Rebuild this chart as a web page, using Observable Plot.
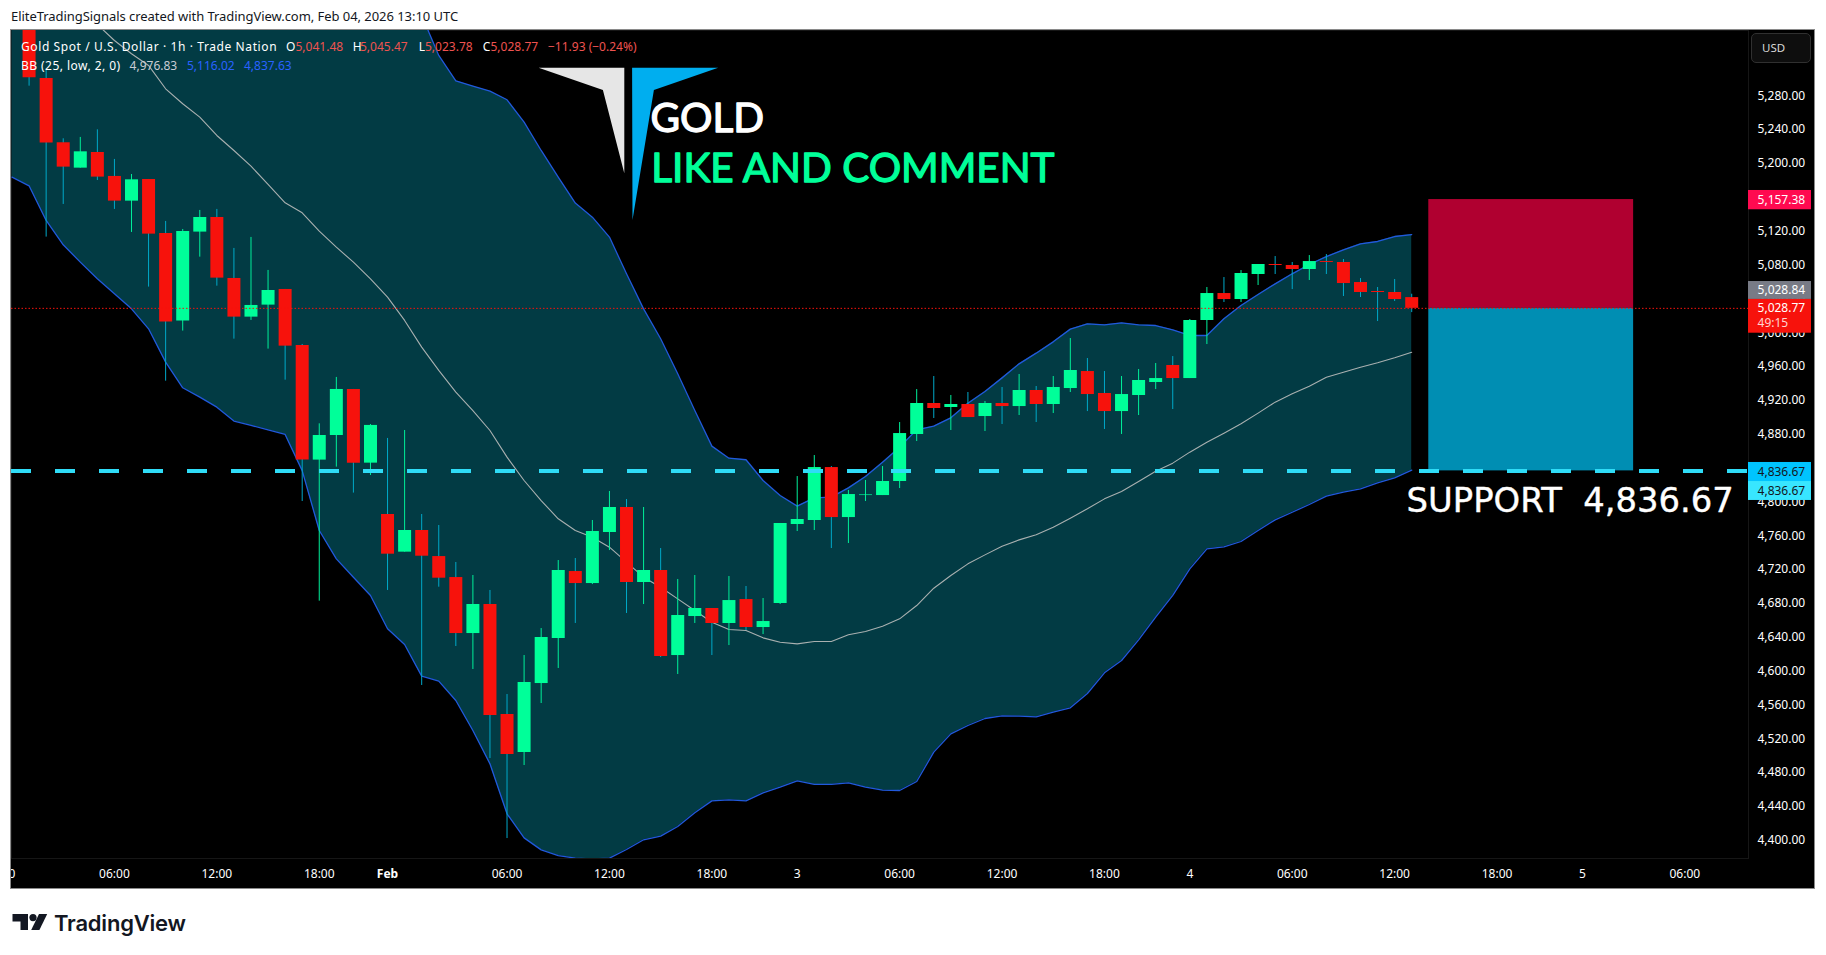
<!DOCTYPE html>
<html>
<head>
<meta charset="utf-8">
<script src="https://cdn.jsdelivr.net/npm/d3@7"></script>
<script src="https://cdn.jsdelivr.net/npm/@observablehq/plot@0.6"></script>
<style>
html,body{margin:0;padding:0;background:#fff;width:1826px;height:955px;overflow:hidden;font-family:"Noto Sans",sans-serif}
#credit{position:absolute;left:11px;top:7px;font-size:13px;line-height:18px;color:#131722;white-space:nowrap;letter-spacing:-.05px}
#chart{position:absolute;left:11px;top:30px;width:1803px;height:858px;background:#000;outline:1px solid #8a8a8a}
#chart svg{display:block;overflow:hidden}
.lg{position:absolute;font-size:12px;line-height:16px;white-space:nowrap;color:#fff}
.r{color:#ef5350}.b{color:#2962ff}.g{color:#c8ccd4}
#usd{position:absolute;left:1751px;top:33px;width:60px;height:30px;box-sizing:border-box;border:1px solid #303030;border-radius:5px;background:#0e0e0e;color:#d8d8d8;font-size:11.5px;line-height:28px;padding-left:10px}
#deco{position:absolute;left:0;top:0;width:1826px;height:955px;pointer-events:none}
#tv{position:absolute;left:54px;top:908px;font-family:Inter,"Noto Sans",sans-serif;font-weight:600;font-size:22px;line-height:30px;color:#131722;letter-spacing:-.2px}
</style>
</head>
<body>
<div id="credit">EliteTradingSignals created with TradingView.com, Feb 04, 2026 13:10 UTC</div>
<div id="chart"></div>
<div id="usd">USD</div>
<svg id="deco" viewBox="0 0 1826 955">
  <polygon points="538.6,67.7 624.3,67.7 624.3,173.3 602.9,90" fill="#e6e6e6"/>
  <polygon points="632.1,67.7 718.2,67.7 653.9,90 632.5,220" fill="#00aeef"/>
  <path d="M12.5 914h15.5v16h-7.5v-8.5h-8z" fill="#131722"/>
  <circle cx="33" cy="917.6" r="3.6" fill="#131722"/>
  <path d="M39 914h8.2l-7.8 16h-8.2z" fill="#131722"/>
</svg>
<div id="tv">TradingView</div>
<script>
// --- candles (bar 0 … bar 81)
const opens=[5400,5300.5,5224.5,5194.5,5213,5184.7,5155.5,5181.1,5117.3,5013.7,5118.9,5136.2,5064.1,5018.4,5032.6,5051.1,4984.9,4849.4,4878.5,4932.9,4845.8,4785.1,4740.6,4766.2,4735.4,4710.6,4644.4,4678.7,4548.7,4503.8,4585.3,4638.5,4717.7,4703.5,4763.8,4793.4,4704.7,4718.9,4618.4,4664.5,4674,4656.3,4684.6,4651.5,4679.9,4773.3,4778,4840.6,4781.5,4807.5,4807.5,4824.1,4879.7,4916.3,4911.6,4915.1,4900.9,4916.3,4912.7,4931.7,4915.1,4934,4954.1,4928.1,4906.8,4925.8,4941.1,4961.2,4945.8,5014.4,5046.3,5039.2,5068.8,5080.6,5079.4,5074.7,5084.1,5083,5059.3,5048.7,5047.5,5041.48];
const closes=[5301.3,5224.1,5195.7,5213.8,5183.9,5155.5,5180.7,5116.5,5012.5,5119.7,5136.2,5064.5,5018.4,5032.2,5049.9,4984.1,4849.4,4878.5,4932.9,4845.8,4890.4,4738.2,4766.2,4735.8,4709.8,4644.4,4678.7,4547.5,4501.4,4586.5,4639.7,4718.9,4703.5,4765,4793.4,4704.7,4718.9,4617.2,4665.7,4674,4656.3,4683.4,4651.5,4658.6,4774.5,4779.2,4840.6,4781.5,4808.7,4808.3,4824.1,4880.8,4916.3,4910.4,4915.1,4899.7,4916.3,4912.7,4931.7,4915.1,4935.2,4955.3,4926.9,4906.8,4926.9,4943.5,4945.8,4945.8,5014.4,5046.3,5039.2,5070,5080.6,5079.4,5074.7,5084.1,5083,5058.1,5047.5,5047.5,5039.2,5028.77];
const highs=[5410,5310,5229.2,5230.8,5239.8,5204.8,5187,5181.1,5131.5,5122,5144.5,5145.7,5099.6,5112.6,5073.6,5051.1,4986.1,4892.3,4947.1,4932.9,4891.5,4875,4884.4,4785.1,4772.1,4728.4,4713,4695.3,4572.3,4618.4,4650.3,4730.7,4733.1,4778,4812.3,4802.8,4793.4,4744.9,4708.3,4713,4674,4711.8,4700,4685.8,4774.5,4830,4854.8,4841.8,4813.5,4825.3,4841.8,4893.8,4932.8,4948.2,4925.8,4929.3,4918.7,4935.2,4950.6,4936.4,4948.2,4993.1,4969.5,4954.1,4948.2,4956.5,4963.6,4971.8,5015.6,5053.4,5065.2,5073.5,5080.6,5090,5083,5091.2,5092.4,5086.5,5064,5053.4,5062.9,5045.47];
const lows=[5291.4,5113,5151.6,5194.5,5179.9,5145.7,5118.5,5053.9,4942.7,5001.9,5089.3,5055,4992.4,5014.5,4980.6,4943.9,4800.5,4682.7,4841.1,4810.4,4831.2,4695.3,4740.6,4583,4699.2,4629.1,4601.9,4496.7,4402.1,4488.4,4561.7,4603.1,4656.3,4702.3,4742.5,4668.1,4678.7,4616,4596,4656.3,4618.4,4630.2,4648,4643.2,4678.7,4765,4766.2,4744.9,4750.8,4800.5,4807.5,4815.8,4871.4,4898.6,4884.4,4899.7,4883.2,4891.5,4902.1,4893.8,4904.5,4929.3,4906.8,4885.6,4879.7,4902.1,4932.8,4909.2,4945.8,4986,5035.7,5035.7,5055.8,5068.8,5051,5061.7,5068.8,5042.8,5041.6,5013.2,5036.9,5023.78];
// --- Bollinger bands (bar -1 … bar 81); the upper band is above the pane until bar 23
const bbUpper=[5775,5760,5745,5730,5715,5700,5685,5670,5655,5640,5625,5610,5595,5580,5565,5550,5535,5520,5505,5490,5475,5460,5440,5422,5375,5327.7,5297.7,5291.4,5285.5,5275.3,5248.9,5215.4,5183.9,5153.2,5136.6,5113,5069.6,5028.2,4992.8,4951.4,4908,4865.9,4851.7,4849.8,4825.3,4807.5,4795,4804.8,4805.6,4816.6,4830,4847,4864.7,4885.2,4889.5,4899.4,4916.7,4930.5,4946.6,4963.2,4975.8,4989.2,5004.2,5010.5,5009.3,5011.6,5009.3,5008.5,5003.4,4996.7,4996.7,5016.4,5032.1,5045.1,5057.7,5069.6,5080.6,5090,5097.9,5105,5107.8,5113.7,5116.02];
const bbMid=[5440,5425,5410,5395,5379,5364.3,5345.4,5329.7,5315.9,5288.3,5270.6,5254.8,5233.1,5215.4,5196.9,5175.2,5153.5,5141.7,5120,5101.1,5083.4,5063.7,5042,5014.5,4982.9,4955.4,4929.7,4908,4884.4,4852.9,4825.3,4801.6,4780,4766.2,4758.3,4746.5,4728.8,4711,4699.2,4685.4,4671.6,4657.8,4649.2,4648,4639.3,4634.2,4632.2,4635,4635,4642.9,4646.8,4653.1,4661.8,4677.5,4698,4713,4726.8,4737.4,4747.7,4755.1,4761.1,4770.1,4780.8,4791.8,4803.6,4812.3,4824.1,4836.3,4845.8,4858.8,4870.6,4881.2,4892.3,4904.9,4917.9,4927.7,4936.8,4947.4,4953.3,4959.2,4964.4,4970.3,4976.83];
const bbLower=[5183.9,5173.6,5132.7,5103.9,5083.4,5063.7,5046,5028.2,5004.6,4965.2,4934.9,4923.8,4912,4895.5,4890.4,4885.2,4879.7,4837,4766.2,4732.7,4711,4689.4,4650,4631.4,4594,4588.1,4565.2,4529.8,4490.4,4431.3,4402.9,4388.7,4382,4378.9,4378,4378.9,4389.1,4400.6,4404.9,4416.3,4432.5,4446.6,4447.8,4446.6,4456.1,4462.8,4470.3,4466,4466,4467.9,4462.8,4459.3,4458.9,4469.5,4504.2,4525.8,4535.7,4544,4547.1,4546.7,4546,4551.5,4556.6,4573.5,4598,4612.5,4637,4663.7,4689.4,4720.9,4744.5,4746.9,4753.2,4766.2,4778.8,4787.8,4796.9,4806.8,4811.5,4815.4,4822.5,4828.4,4837.63];
// --- axis labels
const priceTicks=[4400,4440,4480,4520,4560,4600,4640,4680,4720,4760,4800,4840,4880,4920,4960,5000,5040,5080,5120,5160,5200,5240,5280];
const timeTickBars=[-1.7,5,11,17,28,34,40,45,51,57,63,68,74,80,86,91,97];
const timeTickLabels=["00:00","06:00","12:00","18:00","06:00","12:00","18:00","3","06:00","12:00","18:00","4","06:00","12:00","18:00","5","06:00"];
const boldTickBars=[21];
const boldTickLabels=["Feb"];
// --- levels
const supportLevel=4836.67, stopLevel=5157.38, lastClose=5028.77;
const positionBars=[82,94];
// --- price tags: label, price span of the tag, text price, colours
const tagNames=["5,157.38","5,028.84","5,028.77","4,836.67","4,836.67"];
const tagTop=[5168.1,5060.5,5039.3,4846.6,4824.1];
const tagBottom=[5145.3,5039.3,4999.4,4824.1,4801.7];
const tagTextAt=[5156.7,5049.9,5029.5,4835.4,4813];
const tagFill=["#ff0a50","#787b86","#f7120c","#00c4ff","#38e6ff"];
const tagInk=["#fff","#fff","#fff","#131722","#131722"];

const colUp="#00ff99", colDown="#f7120c", wickUp="#00f09a", wickDown="#00a9c9";
const bars=d3.range(opens.length).map(i=>({i,o:opens[i],c:closes[i],h:highs[i],l:lows[i]}));
const bb=d3.range(bbMid.length).map(k=>({i:k-1,u:bbUpper[k],m:bbMid[k],l:bbLower[k]}));
const tags=tagNames.map((n,k)=>({n,t:tagTop[k],b:tagBottom[k],a:tagTextAt[k],f:tagFill[k],k:tagInk[k]}));
const xL=-1.03, xR=100.73, tagW=104.42, tagT=101.26;
const fmt=d3.format(",.2f");
const lookup=(ks,vs)=>v=>vs[ks.indexOf(v)];

const chart=Plot.plot({
  width:1803,height:858,marginTop:0,marginLeft:0,marginRight:66,marginBottom:30,
  style:{background:"#000",color:"#fff",fontFamily:'"Noto Sans",sans-serif',fontSize:"12px"},
  x:{domain:[xL,xR],axis:null},
  y:{domain:[4378.5,5357.2],axis:null},
  marks:[
    Plot.frame({stroke:"#161616"}),
    Plot.areaY(bb,{x:"i",y1:"l",y2:"u",fill:"#023b44",clip:true}),
    Plot.line(bb,{x:"i",y:"m",stroke:"#a9b0b0",strokeWidth:1.1,clip:true}),
    Plot.line(bb,{x:"i",y:"u",stroke:"#2159dc",strokeWidth:1.3,clip:true}),
    Plot.line(bb,{x:"i",y:"l",stroke:"#2159dc",strokeWidth:1.3,clip:true}),
    Plot.rect([0],{x1:()=>positionBars[0],x2:()=>positionBars[1],y1:()=>lastClose,y2:()=>stopLevel,fill:"#b00030"}),
    Plot.rect([0],{x1:()=>positionBars[0],x2:()=>positionBars[1],y1:()=>supportLevel,y2:()=>lastClose,fill:"#008eb3"}),
    Plot.ruleX(bars,{x:"i",y1:"l",y2:"h",stroke:d=>d.c>=d.o?wickUp:wickDown,strokeWidth:1,clip:true}),
    Plot.ruleX(bars,{x:"i",y1:"o",y2:"c",stroke:d=>d.c>=d.o?colUp:colDown,strokeWidth:13,clip:true}),
    Plot.ruleY([lastClose],{x1:xL,x2:xR,stroke:"#f7120c",strokeWidth:1,strokeDasharray:"1.5,2"}),
    Plot.ruleY([supportLevel],{x1:xL,x2:xR,stroke:"#2fdcf7",strokeWidth:4,strokeDasharray:"20,24"}),
    Plot.axisY({anchor:"right",ticks:priceTicks,tickFormat:fmt,tickSize:0,tickPadding:9,label:null,color:"#fff"}),
    Plot.axisX({anchor:"bottom",ticks:timeTickBars,tickFormat:lookup(timeTickBars,timeTickLabels),tickSize:0,tickPadding:11,label:null,color:"#fff"}),
    Plot.axisX({anchor:"bottom",ticks:boldTickBars,tickFormat:lookup(boldTickBars,boldTickLabels),tickSize:0,tickPadding:11,label:null,color:"#fff",fontWeight:"bold"}),
    Plot.rect(tags,{x1:()=>xR,x2:()=>tagW,y1:"b",y2:"t",fill:"f"}),
    Plot.text(tags,{x:()=>tagT,y:"a",text:"n",fill:"k",textAnchor:"start",fontSize:12}),
    Plot.text(["49:15"],{x:()=>tagT,y:()=>5011.3,text:d=>d,fill:"#ffd5d0",textAnchor:"start",fontSize:12}),
    Plot.text(["SUPPORT\u00a0\u00a04,836.67"],{x:()=>80.7,y:()=>4801,text:d=>d,fill:"#fff",stroke:"#fff",strokeWidth:.4,textAnchor:"start",fontSize:33.8,fontFamily:"DejaVu Sans"}),
    Plot.text(["GOLD"],{x:()=>36.4,y:()=>5252.4,text:d=>d,fill:"#fff",stroke:"#fff",strokeWidth:1.3,textAnchor:"start",fontSize:40.5,fontFamily:"Lato"}),
    Plot.text(["LIKE AND COMMENT"],{x:()=>36.45,y:()=>5193.1,text:d=>d,fill:"#00ff99",stroke:"#00ff99",strokeWidth:1.3,textAnchor:"start",fontSize:40.5,fontFamily:"Lato"})
  ]
});
document.getElementById("chart").appendChild(chart);

// legend text over the pane
const legend=[
  [21,39,"Gold Spot / U.S. Dollar · 1h · Trade Nation","",.6],
  [286,39,"O","",0],[295.5,39,"5,041.48","r",0],[352.7,39,"H","",0],[360,39,"5,045.47","r",0],
  [418.8,39,"L","",0],[425,39,"5,023.78","r",0],[482.7,39,"C","",0],[490.5,39,"5,028.77","r",0],
  [548,39,"−11.93 (−0.24%)","r",0],
  [21,58,"BB (25, low, 2, 0)","",.45],[129.6,58,"4,976.83","g",0],[187,58,"5,116.02","b",0],[244,58,"4,837.63","b",0]
];
for(const [x,y,t,c,sp] of legend){
  const s=document.createElement("span");
  s.className="lg "+c; s.style.left=x+"px"; s.style.top=y+"px"; s.style.letterSpacing=sp+"px"; s.textContent=t;
  document.body.appendChild(s);
}
</script>
</body>
</html>
